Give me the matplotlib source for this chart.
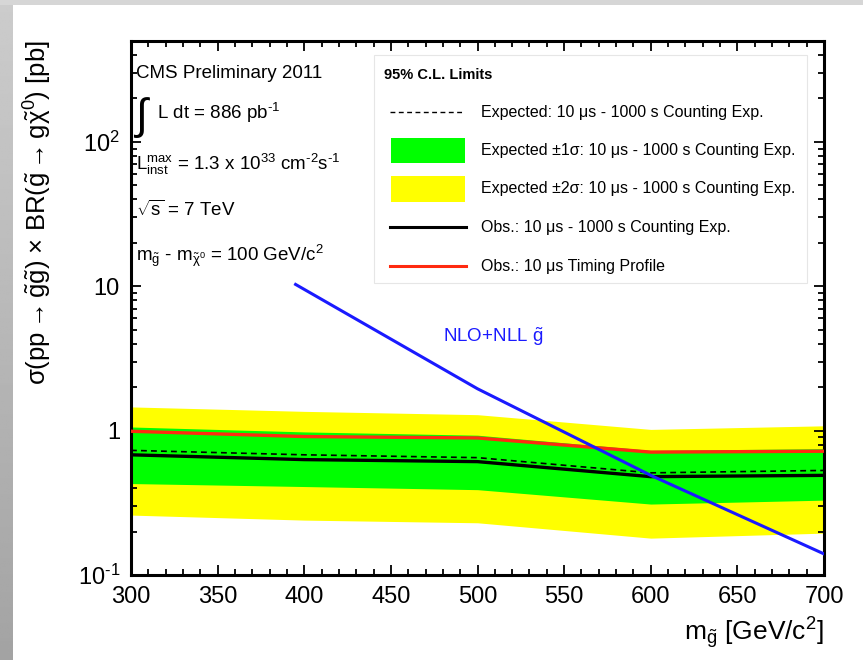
import numpy as np
import matplotlib
matplotlib.use("Agg")
import matplotlib.pyplot as plt
from matplotlib.lines import Line2D
from matplotlib.patches import Rectangle
from matplotlib.ticker import FixedLocator, LogLocator, NullFormatter, MultipleLocator

plt.rcParams['font.family'] = ['Liberation Sans', 'DejaVu Sans']
plt.rcParams['mathtext.fontset'] = 'custom'
plt.rcParams['mathtext.rm'] = 'Liberation Sans'
plt.rcParams['mathtext.it'] = 'Liberation Sans:italic'
plt.rcParams['mathtext.bf'] = 'Liberation Sans:bold'
plt.rcParams['mathtext.default'] = 'regular'

# gluino mass points [GeV/c^2]
mass = [300, 400, 500, 600, 700]
# 95% CL limits on sigma x BR [pb]
obs_counting = [0.68, 0.63, 0.61, 0.48, 0.49]
obs_timing = [0.99, 0.91, 0.89, 0.71, 0.72]
exp_counting = [0.73, 0.68, 0.65, 0.51, 0.53]
exp_1s_lo = [0.43, 0.41, 0.39, 0.31, 0.33]
exp_1s_hi = [1.06, 0.98, 0.93, 0.73, 0.75]
exp_2s_lo = [0.26, 0.24, 0.23, 0.18, 0.195]
exp_2s_hi = [1.46, 1.36, 1.29, 1.02, 1.08]
# NLO+NLL gluino pair production cross section [pb]
theory_mass = [395, 500, 600, 700]
theory_xsec = [10.3, 1.95, 0.49, 0.14]

x_ticks = [300, 350, 400, 450, 500, 550, 600, 650, 700]
y_ticks = [0.1, 1, 10, 100]
y_tick_labels = [r'$10^{\text{-}1}$', '1', '10', r'$10^{2}$']

W, H = 863, 660
fig = plt.figure(figsize=(W / 100, H / 100), dpi=100)


def fx(px):
    return px / W


def fy(py):
    return 1 - py / H


# slide frame: light strip on top, shaded strip on the left
fig.patches.append(Rectangle((0, fy(5)), 1, 5 / H, transform=fig.transFigure,
                             facecolor='#d6d6d6', edgecolor='none', zorder=0))
bg = fig.add_axes([0, 0, fx(12), 1])
grad = np.linspace(0.80, 0.64, 256).reshape(-1, 1)
bg.imshow(grad, aspect='auto', cmap='gray', vmin=0, vmax=1, extent=[0, 1, 0, 1])
bg.set_axis_off()

ax = fig.add_axes([fx(131), fy(575), fx(824) - fx(131), fy(41) - fy(575)])
ax.set_yscale('log')
ax.set_xlim(300, 700)
ax.set_ylim(0.1, 500)

ax.fill_between(mass, exp_2s_lo, exp_2s_hi, color='#ffff00', lw=0, zorder=1)
ax.fill_between(mass, exp_1s_lo, exp_1s_hi, color='#00ff00', lw=0, zorder=2)
ax.plot(mass, exp_counting, color='black', lw=1.2, ls=(0, (3.5, 2.5)), zorder=3)
ax.plot(mass, obs_counting, color='black', lw=2.4, zorder=4)
ax.plot(mass, obs_timing, color='#ff2a10', lw=2.4, zorder=5)
ax.plot(theory_mass, theory_xsec, color='#1a1aff', lw=2.2, zorder=6)

ax.text(480, 4.5, r'NLO+NLL $\tilde{g}$', color='#1a1aff', fontsize=13.5,
        ha='left', va='center')

ax.xaxis.set_major_locator(FixedLocator(x_ticks))
ax.xaxis.set_minor_locator(MultipleLocator(10))
ax.set_xticklabels([str(v) for v in x_ticks])
ax.yaxis.set_major_locator(FixedLocator(y_ticks))
ax.yaxis.set_minor_locator(LogLocator(base=10, subs=np.arange(2, 10)))
ax.yaxis.set_minor_formatter(NullFormatter())
ax.set_yticklabels(y_tick_labels)
ax.tick_params(which='both', direction='in', top=True, right=True, width=1.3,
               labelsize=17, colors='black')
ax.tick_params(which='major', length=7.5, pad=8)
ax.tick_params(which='minor', length=4)
for s in ax.spines.values():
    s.set_linewidth(2.2)

# axis titles
fig.text(fx(38), fy(40),
         r'$\sigma$(pp$\rightarrow$$\tilde{g}\tilde{g}$) $\times$ BR($\tilde{g}$$\rightarrow$g$\tilde{\chi}^{0}$) [pb]',
         rotation=90, ha='center', va='top', fontsize=18.5)
fig.text(fx(824), fy(633), r'$m_{\tilde{g}}$ [GeV/c$^{2}$]', ha='right',
         va='center', fontsize=19)

# run conditions
fig.text(fx(136), fy(73), 'CMS Preliminary 2011', fontsize=13.5, va='center')
fig.text(fx(133), fy(118), r'$\int$', fontsize=31, va='center')
fig.text(fx(157), fy(113), r'L dt = 886 pb$^{\text{-}1}$', fontsize=13.5, va='center')
fig.text(fx(136), fy(164), r'$L_{inst}^{max}$ = 1.3 x 10$^{33}$ cm$^{\text{-}2}$s$^{\text{-}1}$',
         fontsize=13.5, va='center')
fig.text(fx(136), fy(210), r'$\sqrt{s}$ = 7 TeV', fontsize=13.5, va='center')
fig.text(fx(136), fy(256), r'$m_{\tilde{g}}$ - $m_{\tilde{\chi}^{0}}$ = 100 GeV/c$^{2}$',
         fontsize=13.5, va='center')

# legend box
fig.patches.append(Rectangle((fx(374), fy(283)), fx(807) - fx(374), fy(55) - fy(283),
                             transform=fig.transFigure, facecolor='white',
                             edgecolor='#e6e6e6', lw=0.8, zorder=10))
fig.text(fx(384), fy(75), '95% C.L. Limits', fontsize=10.5, fontweight='bold',
         va='center', zorder=11)
rows = [112, 150, 189, 227, 266]
labels = ['Expected: 10 μs - 1000 s Counting Exp.',
          'Expected ±1σ: 10 μs - 1000 s Counting Exp.',
          'Expected ±2σ: 10 μs - 1000 s Counting Exp.',
          'Obs.: 10 μs - 1000 s Counting Exp.',
          'Obs.: 10 μs Timing Profile']
fig.lines.append(Line2D([fx(390), fx(463)], [fy(rows[0])] * 2, color='black', lw=1.0,
                        ls=(0, (3.5, 2.5)), transform=fig.transFigure, zorder=11))
fig.patches.append(Rectangle((fx(391), fy(163)), fx(465) - fx(391), fy(138) - fy(163),
                             transform=fig.transFigure, facecolor='#00ff00',
                             edgecolor='none', zorder=11))
fig.patches.append(Rectangle((fx(391), fy(202)), fx(465) - fx(391), fy(176) - fy(202),
                             transform=fig.transFigure, facecolor='#ffff00',
                             edgecolor='none', zorder=11))
fig.lines.append(Line2D([fx(390), fx(466)], [fy(rows[3])] * 2, color='black', lw=2.2,
                        transform=fig.transFigure, zorder=11))
fig.lines.append(Line2D([fx(390), fx(466)], [fy(rows[4])] * 2, color='#ff2a10', lw=2.2,
                        transform=fig.transFigure, zorder=11))
for r, lab in zip(rows, labels):
    fig.text(fx(481), fy(r), lab, fontsize=11.5, va='center', zorder=11)

fig.savefig('out.png', dpi=100)
